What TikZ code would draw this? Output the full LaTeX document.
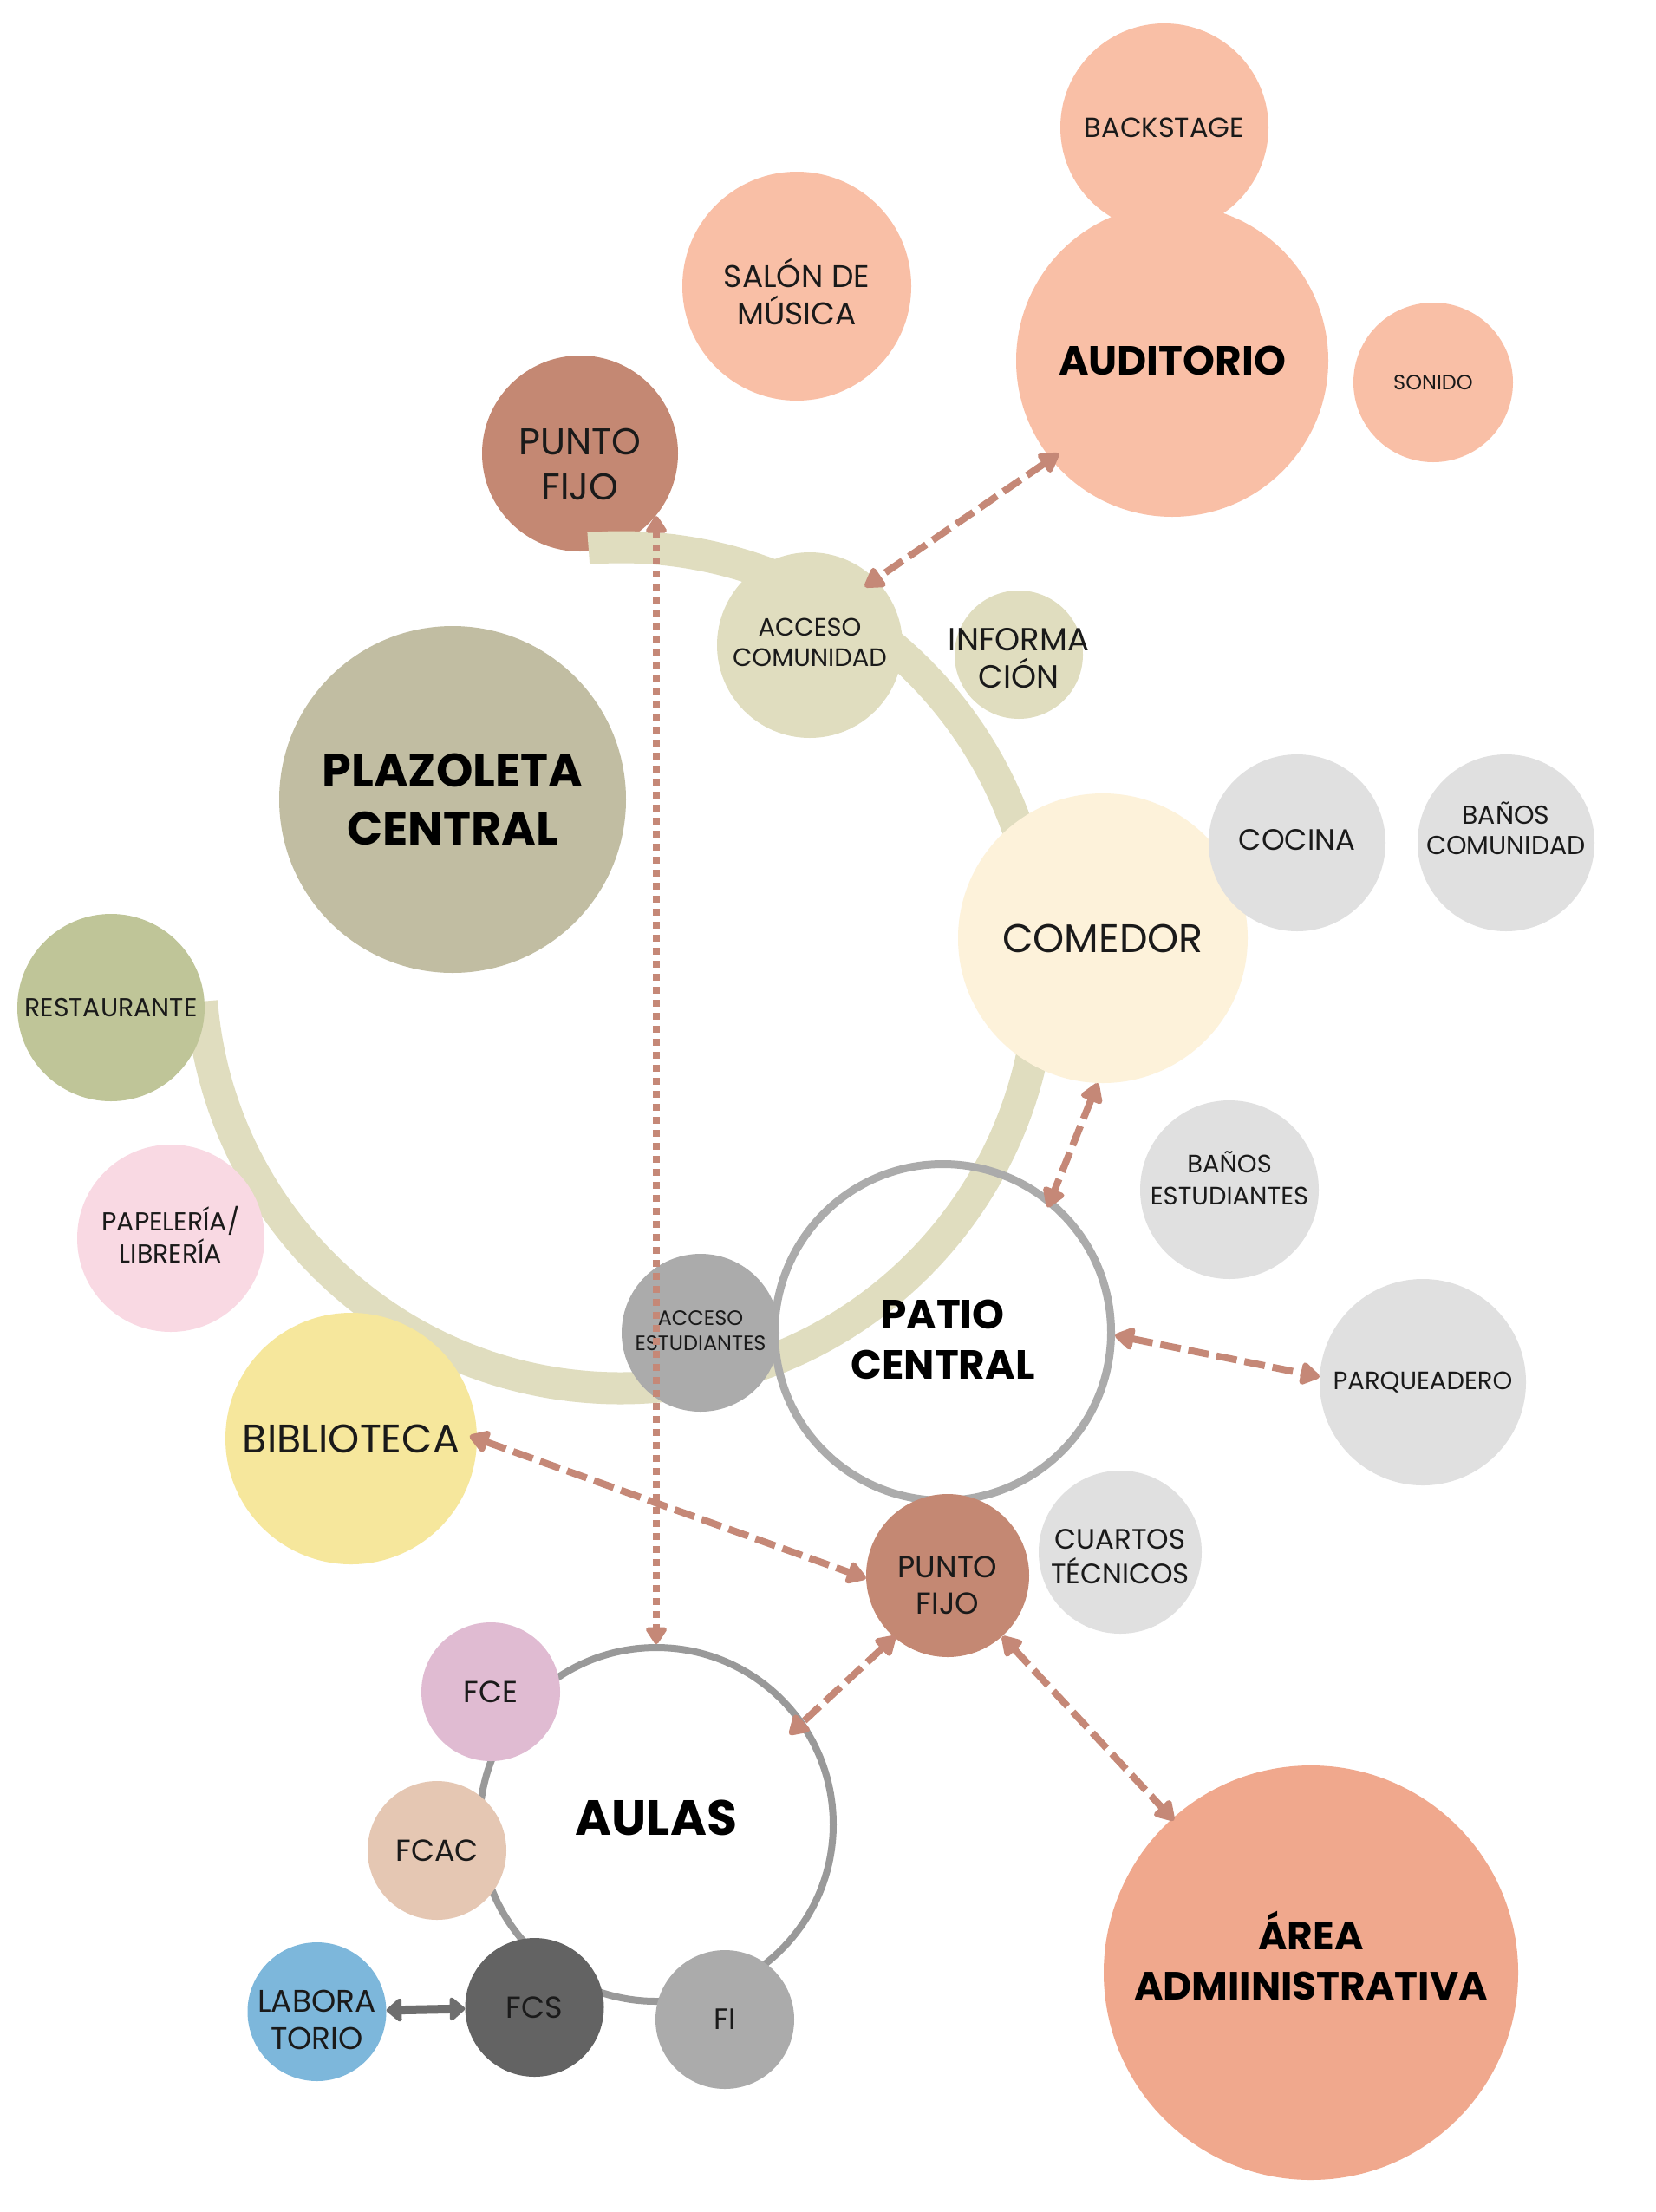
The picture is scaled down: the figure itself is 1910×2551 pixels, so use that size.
\documentclass[tikz,border=0pt]{standalone}
\usepackage{fontspec}
\setmainfont{Poppins}
\usetikzlibrary{arrows.meta}
\definecolor{peach}{HTML}{F9BFA6}
\definecolor{pfc}{HTML}{C48873}
\definecolor{beige}{HTML}{E0DDBF}
\definecolor{plazc}{HTML}{C1BDA2}
\definecolor{comc}{HTML}{FDF2DA}
\definecolor{lgray}{HTML}{E0E0E0}
\definecolor{restc}{HTML}{BFC598}
\definecolor{papc}{HTML}{F9D9E3}
\definecolor{bibc}{HTML}{F6E79C}
\definecolor{aestc}{HTML}{ABABAB}
\definecolor{patiob}{HTML}{ABABAB}
\definecolor{aulasb}{HTML}{999999}
\definecolor{fcec}{HTML}{E0BBD2}
\definecolor{fcacc}{HTML}{E5C7B3}
\definecolor{labc}{HTML}{7DB7DB}
\definecolor{fcsc}{HTML}{636363}
\definecolor{fic}{HTML}{ABABAB}
\definecolor{areac}{HTML}{F0A88D}
\definecolor{arrc}{HTML}{C58877}
\definecolor{labarr}{HTML}{6E6E6E}
\definecolor{txt}{HTML}{1A1A1A}
\newcommand{\myfs}[2]{\fontsize{#1}{#2}\selectfont}
\begin{document}
\begin{tikzpicture}[x=1pt,y=-1pt,
  bub/.style={circle, inner sep=0pt, align=center, text=txt},
  ring/.style={circle, inner sep=0pt, align=center, text=black},
  lbl/.style={inner sep=0pt, align=center, text=txt},
  blbl/.style={inner sep=0pt, align=center, text=black},
  bandline/.style={draw=beige, line width=37pt},
  conn/.style={draw=arrc, line width=8pt, dash pattern=on 24pt off 9pt, {Triangle[length=25pt,width=29pt,round]}-{Triangle[length=25pt,width=29pt,round]}},
  dotconn/.style={draw=arrc, line width=8pt, dash pattern=on 8pt off 7pt, {Triangle[length=22pt,width=27pt,round]}-{Triangle[length=22pt,width=27pt,round]}},
  labconn/.style={draw=labarr, line width=10pt, {Triangle[length=19pt,width=31pt,round]}-{Triangle[length=19pt,width=31pt,round]}}
]
\path[use as bounding box, fill=white] (0,0) rectangle (1910,2551);

% peach group
\node[bub, fill=peach, minimum size=264pt] (salon) at (919,330) {};
\node[lbl, font=\myfs{36}{43}] (salont) at ([yshift=-6pt]salon.center) {SALÓN DE\\MÚSICA};
\node[bub, fill=peach, minimum size=240pt, font=\myfs{32}{40}] (back) at (1343,147) {BACKSTAGE};
\node[bub, fill=peach, minimum size=360pt, font=\bfseries\myfs{47}{55}, text=black] (aud) at (1352,416) {AUDITORIO};
\node[bub, fill=peach, minimum size=184pt, font=\myfs{24}{30}] (sonido) at (1653,441) {SONIDO};

\node[bub, fill=pfc, minimum size=226pt] (pf1) at (669,523) {};
\node[lbl, font=\myfs{43}{52}] (pf1t) at ([yshift=-12pt]pf1.center) {PUNTO\\FIJO};

% band
\draw[bandline] (716,1116) ++(-94.4:485) arc[start angle=-94.4, end angle=175.4, radius=485];

\node[bub, fill=beige, minimum size=214pt] (acom) at (934,744) {};
\node[lbl, font=\myfs{29}{35}] (acomt) at ([yshift=3pt]acom.center) {ACCESO\\COMUNIDAD};
\node[bub, fill=beige, minimum size=148pt] (info) at (1175,755) {};
\node[lbl, font=\myfs{37}{43}] (infot) at ([yshift=-4pt]info.center) {INFORMA\\CIÓN};
\node[bub, fill=plazc, minimum size=400pt, font=\bfseries\myfs{54}{67}, text=black] (plaz) at (522,922) {PLAZOLETA\\CENTRAL};
\node[bub, fill=comc, minimum size=334pt, font=\myfs{46}{52}] (com) at (1272,1082) {COMEDOR};
\node[bub, fill=lgray, minimum size=204pt] (cocina) at (1496,972) {};
\node[lbl, font=\myfs{34}{40}] (cocinat) at ([yshift=3pt]cocina.center) {COCINA};
\node[bub, fill=lgray, minimum size=204pt] (bcom) at (1737,972) {};
\node[lbl, font=\myfs{30}{35}] (bcomt) at ([yshift=17pt]bcom.center) {BAÑOS\\COMUNIDAD};
\node[bub, fill=restc, minimum size=216pt, font=\myfs{30}{35}] (rest) at (128,1162) {RESTAURANTE};
\node[bub, fill=papc, minimum size=216pt] (pap) at (197,1428) {};
\node[lbl, font=\myfs{30}{37}] (papt) at ([yshift=4pt]pap.center) {PAPELERÍA/\\LIBRERÍA};
\node[bub, fill=bibc, minimum size=290pt, font=\myfs{46}{52}] (bib) at (405,1659) {BIBLIOTECA};
\node[bub, fill=aestc, minimum size=182pt] (aest) at (808,1537) {};
\node[lbl, font=\myfs{24}{29}] (aestt) at ([yshift=2pt]aest.center) {ACCESO\\ESTUDIANTES};
\node[ring, draw=patiob, line width=9pt, minimum size=388pt] (patio) at (1087.5,1536.5) {};
\node[blbl, font=\bfseries\myfs{47}{58}] (patiot) at ([yshift=-8pt]patio.center) {PATIO\\CENTRAL};
\node[bub, fill=lgray, minimum size=206pt] (best) at (1418,1372) {};
\node[lbl, font=\myfs{29}{37}] (bestt) at ([yshift=13pt]best.center) {BAÑOS\\ESTUDIANTES};
\node[bub, fill=lgray, minimum size=238pt, font=\myfs{29}{35}] (parq) at (1641,1594) {PARQUEADERO};
\node[bub, fill=pfc, minimum size=188pt] (pf2) at (1093,1817) {};
\node[lbl, font=\myfs{35}{42}] (pf2t) at ([yshift=-11pt]pf2.center) {PUNTO\\FIJO};
\node[bub, fill=lgray, minimum size=188pt] (cuartos) at (1292,1790) {};
\node[lbl, font=\myfs{32.5}{40}] (cuartost) at ([yshift=-5pt]cuartos.center) {CUARTOS\\TÉCNICOS};

\node[ring, draw=aulasb, line width=8pt, minimum size=408pt] (aulas) at (757,2104) {};
\node[blbl, font=\bfseries\myfs{57}{64}] (aulast) at ([yshift=8pt]aulas.center) {AULAS};
\node[bub, fill=fcec, minimum size=160pt, font=\myfs{35}{40}] (fce) at (566,1951) {FCE};
\node[bub, fill=fcacc, minimum size=160pt, font=\myfs{35}{40}] (fcac) at (504,2134) {FCAC};
\node[bub, fill=labc, minimum size=160pt] (lab) at (365.5,2320) {};
\node[lbl, font=\myfs{36}{43}] (labt) at ([yshift=-9pt]lab.center) {LABORA\\TORIO};
\node[bub, fill=fcsc, minimum size=160pt, font=\myfs{35}{40}] (fcs) at (616.5,2315) {FCS};
\node[bub, fill=fic, minimum size=160pt, font=\myfs{34}{40}] (fi) at (836,2329) {FI};
\node[bub, fill=areac, minimum size=478pt] (area) at (1512,2275) {};
\node[blbl, font=\bfseries\myfs{45.5}{58}] (areat) at ([yshift=20pt]area.center) {ÁREA\\ADMIINISTRATIVA};

% connectors
\draw[dotconn, shorten <=-5pt] (pf1.-43.6 -| aulas.north) -- (aulas.north);
\draw[conn, shorten <=-11pt, shorten >=-15pt] (aud.219.7) -- (acom.45);
\draw[conn, shorten >=-11pt] (com.-92.4) -- (patio.51.5);
\draw[conn] (patio.-1) -- (parq.177.6);
\draw[conn, shorten <=-9pt] (bib.0.4) -- (pf2.182.5);
\draw[conn, shorten <=-2pt, shorten >=-23pt] (pf2.229.4) -- (aulas.35.8);
\draw[conn, shorten >=-3pt] (pf2.-48.5) -- (area.132.6);
\draw[labconn] (lab) -- (fcs);
\end{tikzpicture}
\end{document}
